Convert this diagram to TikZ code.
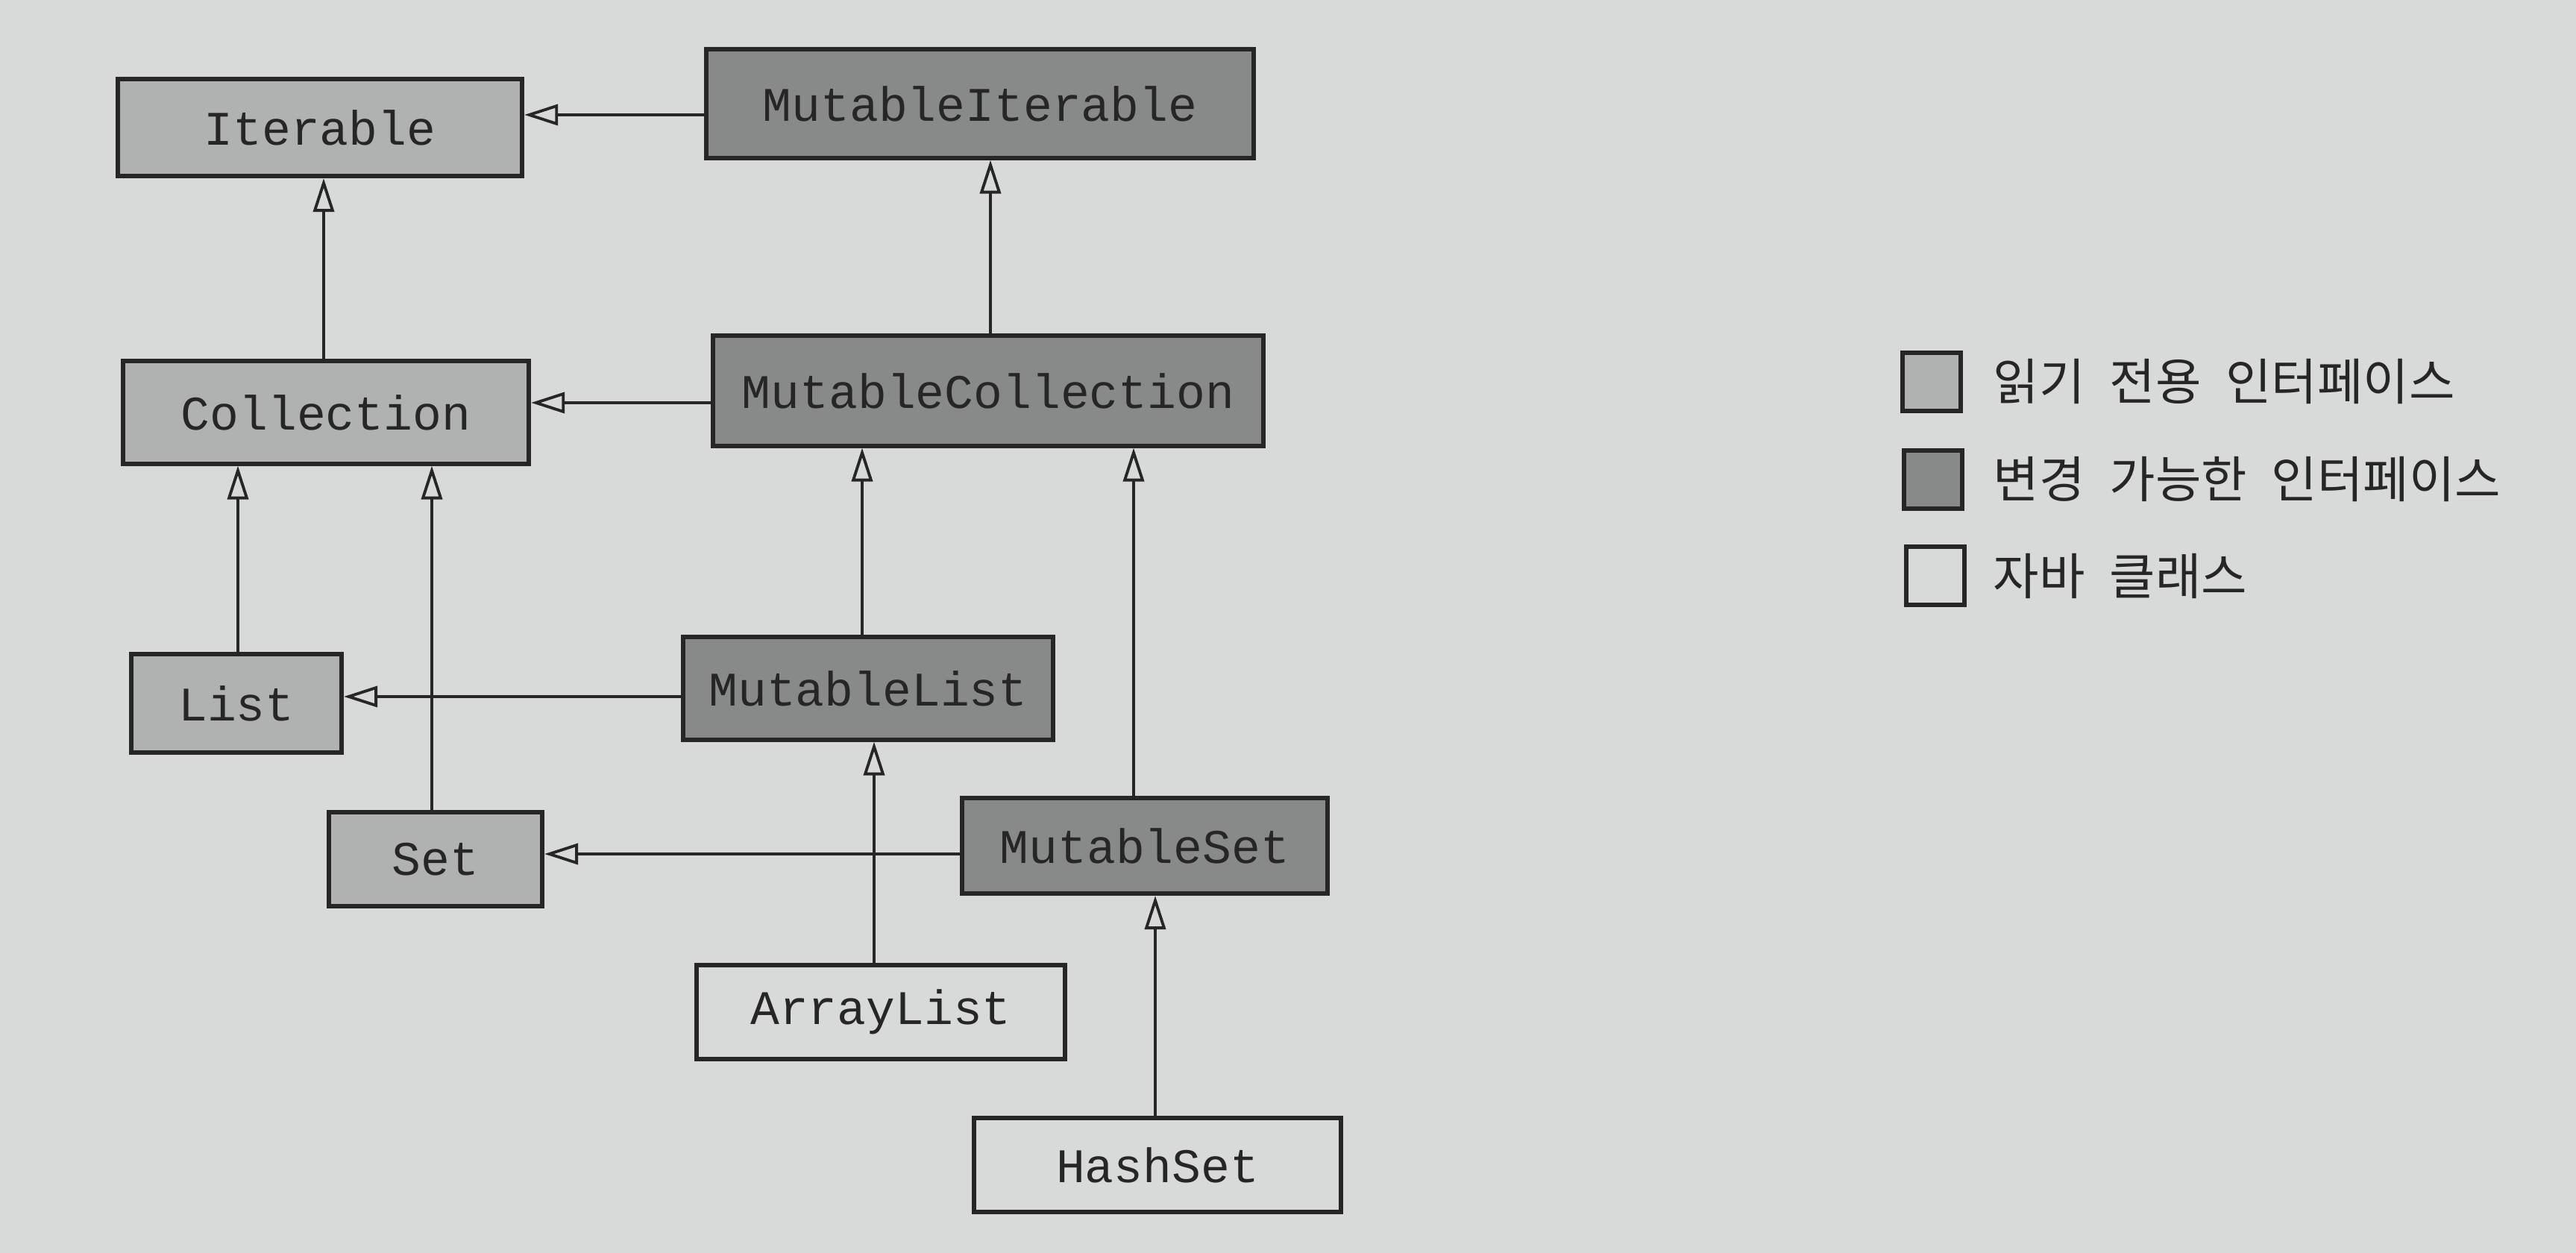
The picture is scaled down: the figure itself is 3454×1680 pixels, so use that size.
\documentclass[tikz,border=0pt]{standalone}
\usepackage{fontspec}
\setmonofont{Liberation Mono}
\newfontfamily\kr[WordSpace=2.2]{Noto Sans CJK KR}
\usetikzlibrary{arrows.meta}
\definecolor{paper}{RGB}{216,218,218}
\definecolor{rofill}{RGB}{176,178,178}
\definecolor{mutfill}{RGB}{136,138,138}
\definecolor{ink}{RGB}{38,38,38}
\begin{document}
\begin{tikzpicture}[x=0.01cm,y=-0.01cm,
  box/.style={draw=ink, line width=1.7pt, inner sep=0pt, font=\ttfamily\fontsize{18.4}{20}\selectfont, text=ink},
  robox/.style={box, fill=rofill},
  mutbox/.style={box, fill=mutfill},
  clsbox/.style={box, fill=paper},
  inh/.style={draw=ink, line width=1.1pt, -{Triangle[open, length=0.45cm, width=0.28cm, line width=1.1pt]}},
  legsq/.style={draw=ink, line width=1.7pt, minimum size=0.78cm, inner sep=0pt},
  legtxt/.style={anchor=west, font=\kr\fontsize{19}{22}\selectfont, text=ink, inner sep=0pt}]
\fill[paper] (0,0) rectangle (3454,1680);
\useasboundingbox (0,0) rectangle (3454,1680);

% boxes
\node[robox, minimum width=5.42cm, minimum height=1.30cm] (It) at (429,171) {Iterable};
\node[mutbox, minimum width=7.34cm, minimum height=1.45cm] (MIt) at (1314,139) {MutableIterable};
\node[robox, minimum width=5.44cm, minimum height=1.37cm] (Co) at (437,553) {Collection};
\node[mutbox, minimum width=7.38cm, minimum height=1.47cm] (MCo) at (1325,524) {MutableCollection};
\node[robox, minimum width=2.82cm, minimum height=1.32cm] (Li) at (317,943) {List};
\node[mutbox, minimum width=4.96cm, minimum height=1.37cm] (MLi) at (1164,923) {MutableList};
\node[robox, minimum width=2.86cm, minimum height=1.26cm] (Se) at (584,1152) {Set};
\node[mutbox, minimum width=4.89cm, minimum height=1.28cm] (MSe) at (1535,1134) {MutableSet};
\node[clsbox, minimum width=4.93cm, minimum height=1.26cm] (AL) at (1181,1357) {ArrayList};
\node[clsbox, minimum width=4.91cm, minimum height=1.26cm] (HS) at (1552,1562) {HashSet};

% guide coordinates
\coordinate (yMIt) at (0,154);
\coordinate (xCo) at (434,0);
\coordinate (xMCo) at (1328,0);
\coordinate (yMCo) at (0,540);
\coordinate (xLi) at (319,0);
\coordinate (xSe) at (579,0);
\coordinate (xMLi) at (1156,0);
\coordinate (xMSe) at (1520,0);
\coordinate (yMLi) at (0,934);
\coordinate (yMSe) at (0,1145);
\coordinate (xAL) at (1172,0);
\coordinate (xHS) at (1549,0);

% connectors
\draw[inh] (MIt.west |- yMIt) -- (It.east |- yMIt);
\draw[inh] (Co.north -| xCo) -- (It.south -| xCo);
\draw[inh] (MCo.north -| xMCo) -- (MIt.south -| xMCo);
\draw[inh] (MCo.west |- yMCo) -- (Co.east |- yMCo);
\draw[inh] (Li.north -| xLi) -- (Co.south -| xLi);
\draw[inh] (Se.north -| xSe) -- (Co.south -| xSe);
\draw[inh] (MLi.north -| xMLi) -- (MCo.south -| xMLi);
\draw[inh] (MSe.north -| xMSe) -- (MCo.south -| xMSe);
\draw[inh] (MLi.west |- yMLi) -- (Li.east |- yMLi);
\draw[inh] (MSe.west |- yMSe) -- (Se.east |- yMSe);
\draw[inh] (AL.north -| xAL) -- (MLi.south -| xAL);
\draw[inh] (HS.north -| xHS) -- (MSe.south -| xHS);

% legend
\node[legsq, fill=rofill] (L1) at (2590,512) {};
\node[legsq, fill=mutfill] (L2) at (2592,643) {};
\node[legsq, fill=paper] (L3) at (2595,772) {};
\node[legtxt] (T1) at (2672,512) {읽기 전용 인터페이스};
\node[legtxt] (T2) at (2672,643) {변경 가능한 인터페이스};
\node[legtxt] (T3) at (2672,772) {자바 클래스};
\end{tikzpicture}
\end{document}
